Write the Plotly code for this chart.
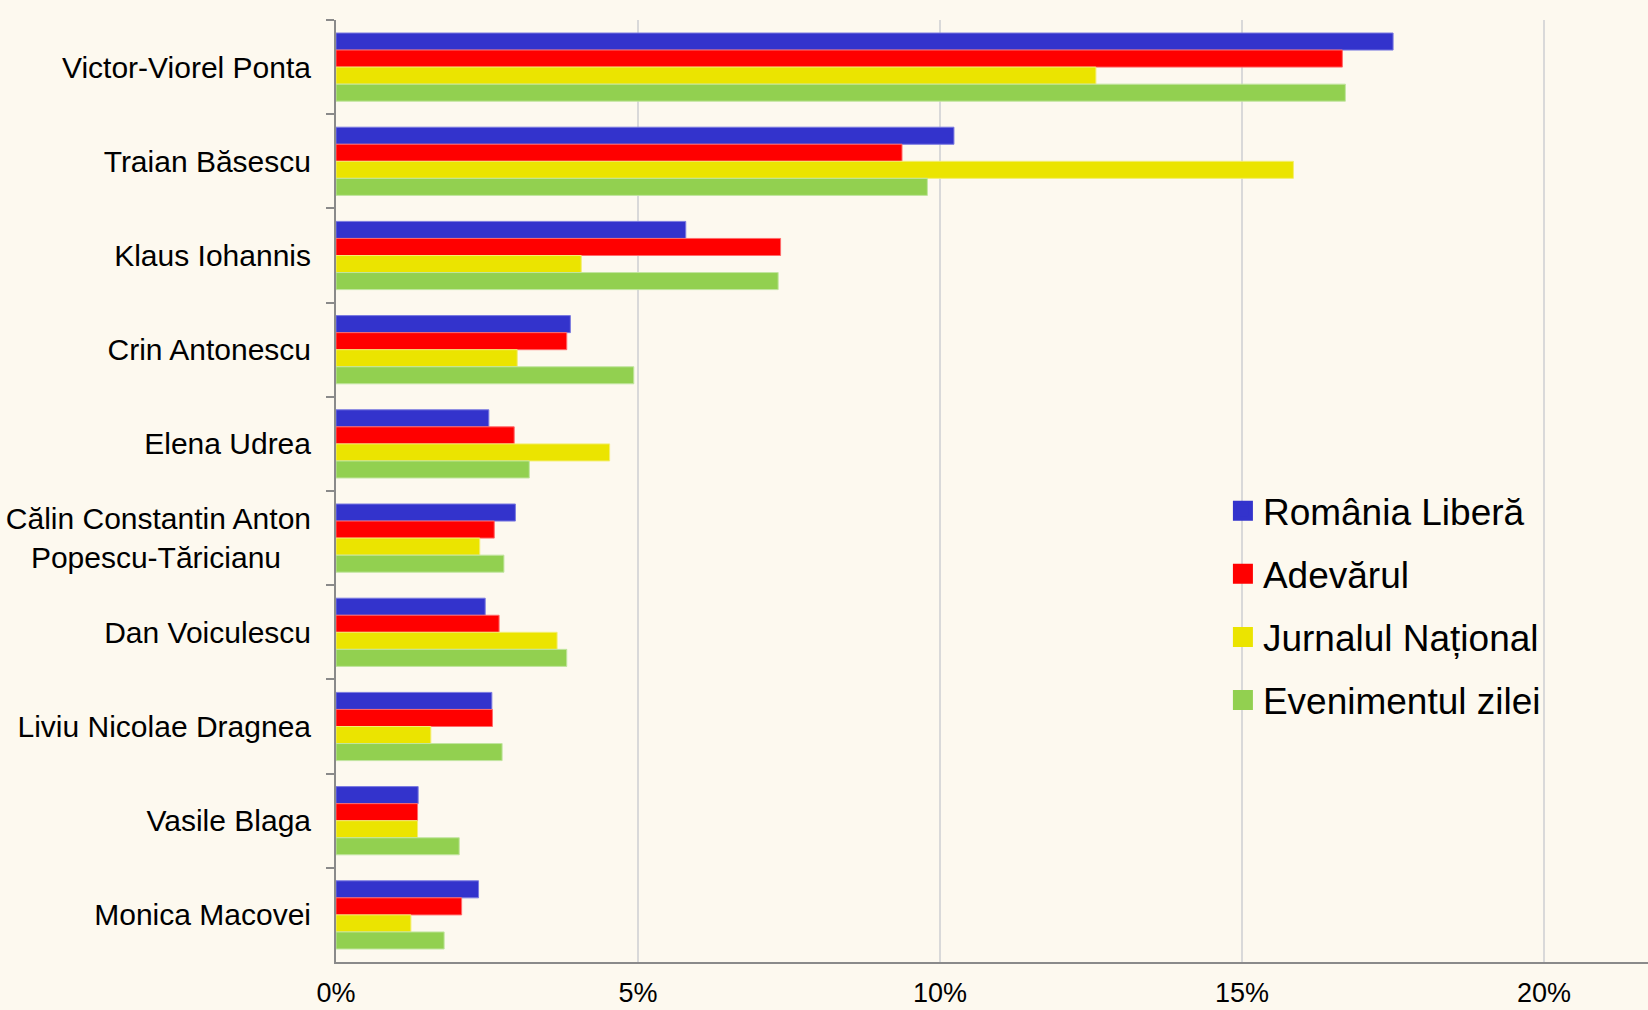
import plotly.graph_objects as go

categories = [
    "Victor-Viorel Ponta",
    "Traian Băsescu",
    "Klaus Iohannis",
    "Crin Antonescu",
    "Elena Udrea",
    "Călin Constantin Anton<br>Popescu-Tăricianu\u2002\u2002",
    "Dan Voiculescu",
    "Liviu Nicolae Dragnea",
    "Vasile Blaga",
    "Monica Macovei",
]

series_names = ["România Liberă", "Adevărul", "Jurnalul Național", "Evenimentul zilei"]

romania_libera = [17.50, 10.23, 5.79, 3.88, 2.53, 2.97, 2.47, 2.58, 1.36, 2.36]
adevarul = [16.66, 9.37, 7.36, 3.82, 2.95, 2.62, 2.70, 2.59, 1.35, 2.08]
jurnalul_national = [12.58, 15.85, 4.06, 3.00, 4.53, 2.38, 3.66, 1.57, 1.35, 1.24]
evenimentul_zilei = [16.71, 9.79, 7.32, 4.93, 3.20, 2.78, 3.82, 2.75, 2.04, 1.79]

x_tick_vals = [0, 5, 10, 15, 20]
x_tick_text = ["0%", "5%", "10%", "15%", "20%"]

colors = ["#3333cc", "#ff0000", "#ebe400", "#92d050"]
outline = ["#7a7ae0", "#ff6a6a", "#f3ee70", "#c2e5a0"]

fig = go.Figure()
all_series = [romania_libera, adevarul, jurnalul_national, evenimentul_zilei]
for i, (name, vals) in enumerate(zip(series_names, all_series)):
    fig.add_trace(go.Bar(
        y=categories, x=vals, name=name, orientation="h",
        marker=dict(color=colors[i], line=dict(color=outline[i], width=1)),
        legendgroup=f"g{i}", showlegend=False,
    ))
# legend entries with larger square swatches
for i, name in enumerate(series_names):
    fig.add_trace(go.Scatter(
        x=[None], y=[None], mode="markers", name=name,
        marker=dict(symbol="square", size=16, color=colors[i],
                    line=dict(color=colors[i], width=4)),
        legendgroup=f"g{i}", showlegend=True, hoverinfo="skip",
    ))

bg = "#fdf9ef"
axis_col = "#8a8a8a"
fig.update_layout(
    width=1648, height=1010,
    paper_bgcolor=bg, plot_bgcolor=bg,
    margin=dict(l=336, r=0, t=20, b=48),
    barmode="group", bargap=0.276, bargroupgap=0,
    font=dict(family="Liberation Sans, Arial, sans-serif", color="#000000"),
    showlegend=True,
    legend=dict(
        x=0.676, xanchor="left", y=0.5115, yanchor="top",
        font=dict(size=37, family="Liberation Sans, Arial, sans-serif"),
        tracegroupgap=12, bgcolor="rgba(0,0,0,0)", itemsizing="trace",
    ),
    xaxis=dict(
        range=[0, 21.72], tickvals=x_tick_vals, ticktext=x_tick_text,
        showgrid=True, gridcolor="#d9d9d9", gridwidth=1.5,
        zeroline=False, showline=True, linecolor=axis_col, linewidth=2,
        ticks="", ticklabelstandoff=6, automargin=False,
        tickfont=dict(size=27, family="Liberation Sans, Arial, sans-serif"),
    ),
    xaxis2=dict(
        overlaying="x", side="top", range=[0, 21.72], tickvals=x_tick_vals,
        showticklabels=False, showgrid=False, zeroline=False,
        showline=True, linecolor=axis_col, linewidth=2, automargin=False,
        ticks="outside", ticklen=8, tickcolor=axis_col, tickwidth=2,
    ),
    yaxis=dict(
        autorange="reversed", showline=True, linecolor=axis_col, linewidth=2,
        ticks="outside", ticklen=8, tickcolor=axis_col, tickwidth=2,
        tickson="boundaries", showgrid=False, ticklabelstandoff=17,
        automargin=False, tickfont=dict(size=30),
    ),
)

fig.write_html(
    "out.html",
    config={"displayModeBar": False},
    post_script="document.body.style.margin='0';document.body.style.background='%s';" % bg,
)
